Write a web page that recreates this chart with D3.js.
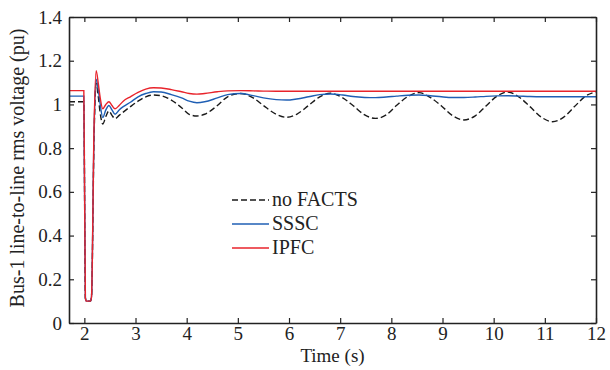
<!DOCTYPE html>
<html>
<head>
<meta charset="utf-8">
<script src="https://d3js.org/d3.v7.min.js"></script>
<style>
  body { margin: 0; background: #fff; }
  svg text { font-family: 'Liberation Serif', 'DejaVu Serif', serif !important; fill: #222; }
</style>
</head>
<body>
<script>
// time samples (s) shared by the three series
var times = [1.7, 1.99, 2.02, 2.04, 2.12, 2.14, 2.19, 2.23, 2.27, 2.31, 2.36, 2.42, 2.48, 2.54, 2.6,
  2.68, 2.76, 2.9, 3.05, 3.2, 3.35, 3.5, 3.7, 3.9, 4.05, 4.2, 4.35, 4.6, 4.8, 5.05,
  5.3, 5.5, 5.75, 5.95, 6.15, 6.38, 6.6, 6.81, 7.05, 7.25, 7.48, 7.69, 7.9, 8.1, 8.33,
  8.54, 8.76, 8.98, 9.2, 9.42, 9.64, 9.85, 10.06, 10.27, 10.5, 10.71, 10.93, 11.15, 11.37,
  11.58, 11.79, 12];

var noFacts = [1.012, 1.012, 0.115, 0.1, 0.1, 0.12, 0.85, 1.097, 1.04, 0.96, 0.91, 0.945, 0.97, 0.95, 0.935,
  0.95, 0.965, 0.99, 1.015, 1.035, 1.043, 1.04, 1.02, 0.985, 0.955, 0.947, 0.955, 0.995, 1.035, 1.05,
  1.03, 0.995, 0.955, 0.941, 0.955, 0.995, 1.035, 1.051, 1.03, 0.995, 0.952, 0.936, 0.952, 0.995, 1.037,
  1.054, 1.032, 0.993, 0.948, 0.929, 0.948, 0.993, 1.037, 1.057, 1.033, 0.99, 0.942, 0.921, 0.942,
  0.99, 1.037, 1.058];

var sssc = [1.038, 1.038, 0.115, 0.1, 0.1, 0.12, 0.88, 1.115, 1.07, 1.0, 0.94, 0.975, 0.995, 0.975, 0.955,
  0.975, 0.99, 1.01, 1.035, 1.05, 1.058, 1.057, 1.045, 1.03, 1.015, 1.008, 1.012, 1.03, 1.045, 1.05,
  1.04, 1.03, 1.022, 1.02, 1.025, 1.035, 1.045, 1.048, 1.043, 1.036, 1.032, 1.031, 1.034, 1.038, 1.042,
  1.043, 1.04, 1.035, 1.032, 1.032, 1.034, 1.037, 1.039, 1.04, 1.038, 1.036, 1.035, 1.035, 1.035,
  1.035, 1.035, 1.035];

var ipfc = [1.063, 1.063, 0.115, 0.1, 0.1, 0.12, 0.9, 1.154, 1.1, 1.03, 0.98, 1.0, 1.012, 0.995, 0.98,
  0.995, 1.015, 1.035, 1.055, 1.07, 1.076, 1.075, 1.068, 1.058, 1.05, 1.047, 1.05, 1.058, 1.062, 1.063,
  1.062, 1.061, 1.06, 1.06, 1.06, 1.06, 1.06, 1.06, 1.06, 1.06, 1.06, 1.06, 1.06, 1.06, 1.06,
  1.06, 1.06, 1.06, 1.06, 1.06, 1.06, 1.06, 1.06, 1.06, 1.06, 1.06, 1.06, 1.06, 1.06,
  1.06, 1.06, 1.06];

var xTicks = [2, 3, 4, 5, 6, 7, 8, 9, 10, 11, 12];
var yTicks = [0, 0.2, 0.4, 0.6, 0.8, 1, 1.2, 1.4];

var series = [
  { name: 'no FACTS', values: noFacts, color: '#1a1a1a', dash: '6,3' },
  { name: 'SSSC', values: sssc, color: '#1f5fb4', dash: null },
  { name: 'IPFC', values: ipfc, color: '#e8232b', dash: null }
];

var width = 610, height = 370;
var margin = { top: 17, right: 14, bottom: 47, left: 69 };

var svg = d3.select('body').append('svg')
  .attr('width', width)
  .attr('height', height);

var x = d3.scaleLinear().domain([1.7, 12]).range([margin.left, width - margin.right]);
var y = d3.scaleLinear().domain([0, 1.4]).range([height - margin.bottom, margin.top]);

var line = d3.line()
  .x(function(d) { return x(d[0]); })
  .y(function(d) { return y(d[1]); })
  .curve(d3.curveMonotoneX);

// curves
var plot = svg.append('g');
series.forEach(function(s) {
  plot.append('path')
    .datum(times.map(function(t, i) { return [t, s.values[i]]; }))
    .attr('fill', 'none')
    .attr('stroke', s.color)
    .attr('stroke-width', 1.4)
    .attr('stroke-dasharray', s.dash)
    .attr('d', line);
});

// axes, ticks pointing inward on all four sides
var x0 = margin.left, x1 = width - margin.right;
var y0 = height - margin.bottom, y1 = margin.top;

svg.append('g').attr('transform', 'translate(0,' + y0 + ')')
  .call(d3.axisBottom(x).tickValues(xTicks).tickSizeInner(-5).tickSizeOuter(0).tickPadding(4));
svg.append('g').attr('transform', 'translate(0,' + y1 + ')')
  .call(d3.axisTop(x).tickValues(xTicks).tickSizeInner(-5).tickSizeOuter(0).tickFormat(''));
svg.append('g').attr('transform', 'translate(' + x0 + ',0)')
  .call(d3.axisLeft(y).tickValues(yTicks).tickSizeInner(-5).tickSizeOuter(0).tickPadding(7)
    .tickFormat(function(d) { return d3.format('~g')(d); }));
svg.append('g').attr('transform', 'translate(' + x1 + ',0)')
  .call(d3.axisRight(y).tickValues(yTicks).tickSizeInner(-5).tickSizeOuter(0).tickFormat(''));

svg.selectAll('g').attr('font-family', null);
svg.selectAll('.domain, .tick line').attr('stroke', '#222').attr('stroke-width', 1.2);
svg.selectAll('.domain').attr('stroke-width', 1.6);
svg.selectAll('.tick text').attr('font-size', 19).attr('fill', '#222');

// axis titles
svg.append('text')
  .attr('x', (x0 + x1) / 2)
  .attr('y', 362)
  .attr('text-anchor', 'middle')
  .attr('font-size', 19)
  .text('Time (s)');

svg.append('text')
  .attr('transform', 'translate(24,' + ((y0 + y1) / 2 - 2) + ') rotate(-90)')
  .attr('text-anchor', 'middle')
  .attr('font-size', 20)
  .text('Bus-1 line-to-line rms voltage (pu)');

// legend
var legend = svg.append('g');
series.forEach(function(s, i) {
  var ly = 200 + i * 24;
  legend.append('line')
    .attr('x1', 232).attr('x2', 269)
    .attr('y1', ly).attr('y2', ly)
    .attr('stroke', s.color)
    .attr('stroke-width', 1.4)
    .attr('stroke-dasharray', s.dash);
  legend.append('text')
    .attr('x', 272)
    .attr('y', ly + 6)
    .attr('font-size', 20)
    .text(s.name);
});
</script>
</body>
</html>
